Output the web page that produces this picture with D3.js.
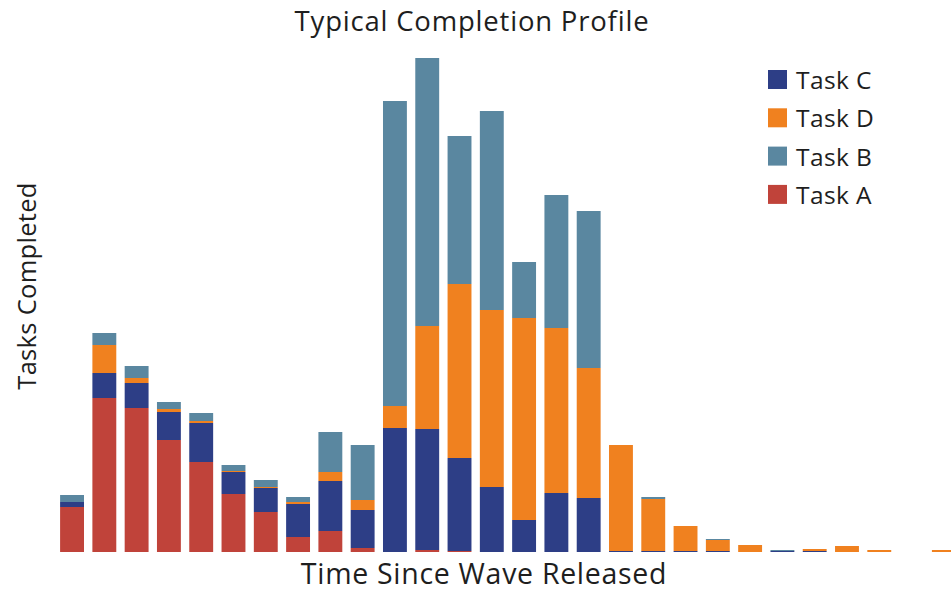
<!DOCTYPE html>
<html>
<head>
<meta charset="utf-8">
<script src="https://cdn.jsdelivr.net/npm/d3@7"></script>
<style>
  html, body { margin: 0; padding: 0; background: #fff; }
  svg { display: block; font-family: "Open Sans", Lato, sans-serif; }
</style>
</head>
<body>
<svg id="chart" width="951" height="594"></svg>
<script>
// Time buckets after the wave is released
const periods = d3.range(1, 29);

// Tasks completed per bucket, by task type
const taskA = [45, 154, 144, 112, 90, 58, 40, 15, 21, 4, 0, 2, 1, 0, 0, 0, 0, 0, 0, 0, 0, 0, 0, 0, 0, 0, 0, 0];
const taskC = [5, 25, 25, 28, 39, 22, 24, 33, 50, 38, 124, 121, 93, 65, 32, 59, 54, 1, 1, 1, 1, 0, 1, 1, 0, 0, 0, 0];
const taskD = [0, 28, 5, 3, 2, 1, 1, 2, 9, 10, 22, 103, 174, 177, 202, 165, 130, 106, 52, 25, 11, 7, 0, 2, 6, 2, 0, 2];
const taskB = [7, 12, 12, 7, 8, 6, 7, 5, 40, 55, 305, 268, 148, 199, 56, 133, 157, 0, 2, 0, 1, 0, 1, 0, 0, 0, 0, 0];

// Stack order (bottom to top) and legend order (top to bottom)
const stackKeys = ["Task A", "Task C", "Task D", "Task B"];
const legendKeys = ["Task C", "Task D", "Task B", "Task A"];
const seriesValues = { "Task A": taskA, "Task C": taskC, "Task D": taskD, "Task B": taskB };
const colors = { "Task A": "#c0433a", "Task C": "#2d3e86", "Task D": "#f0811f", "Task B": "#5a87a0" };

const rows = periods.map((p, i) => {
  const r = { period: p };
  stackKeys.forEach(k => { r[k] = seriesValues[k][i]; });
  return r;
});

const svg = d3.select("#chart");

const x = d3.scaleBand()
  .domain(periods)
  .range([55.9, 960])
  .paddingInner(0.26)
  .paddingOuter(0.13);

const maxTotal = d3.max(rows, r => stackKeys.reduce((s, k) => s + r[k], 0));
const y = d3.scaleLinear()
  .domain([0, maxTotal])
  .range([552, 58]);

const stacked = d3.stack().keys(stackKeys)(rows);

svg.append("g")
  .selectAll("g")
  .data(stacked)
  .join("g")
  .attr("fill", d => colors[d.key])
  .selectAll("rect")
  .data(d => d)
  .join("rect")
  .attr("x", d => x(d.data.period))
  .attr("width", x.bandwidth())
  .attr("y", d => y(d[1]))
  .attr("height", d => Math.max(0, y(d[0]) - y(d[1])));

// Titles
svg.append("text")
  .attr("x", 472)
  .attr("y", 31)
  .attr("text-anchor", "middle")
  .attr("font-size", 27.5)
  .attr("letter-spacing", 0.8)
  .attr("fill", "#1e1e1e")
  .text("Typical Completion Profile");

svg.append("text")
  .attr("x", 484)
  .attr("y", 584)
  .attr("text-anchor", "middle")
  .attr("font-size", 28.5)
  .attr("letter-spacing", 0.7)
  .attr("fill", "#1e1e1e")
  .text("Time Since Wave Released");

svg.append("text")
  .attr("transform", "translate(36,286) rotate(-90)")
  .attr("text-anchor", "middle")
  .attr("font-size", 25.5)
  .attr("letter-spacing", 0.3)
  .attr("fill", "#1e1e1e")
  .text("Tasks Completed");

// Legend
const legend = svg.append("g")
  .selectAll("g")
  .data(legendKeys)
  .join("g")
  .attr("transform", (d, i) => `translate(768,${70 + i * 38.3})`);

legend.append("rect")
  .attr("width", 19)
  .attr("height", 19)
  .attr("fill", d => colors[d]);

legend.append("text")
  .attr("x", 28)
  .attr("y", 19)
  .attr("font-size", 24.5)
  .attr("letter-spacing", 0.4)
  .attr("fill", "#1e1e1e")
  .text(d => d);
</script>
</body>
</html>
